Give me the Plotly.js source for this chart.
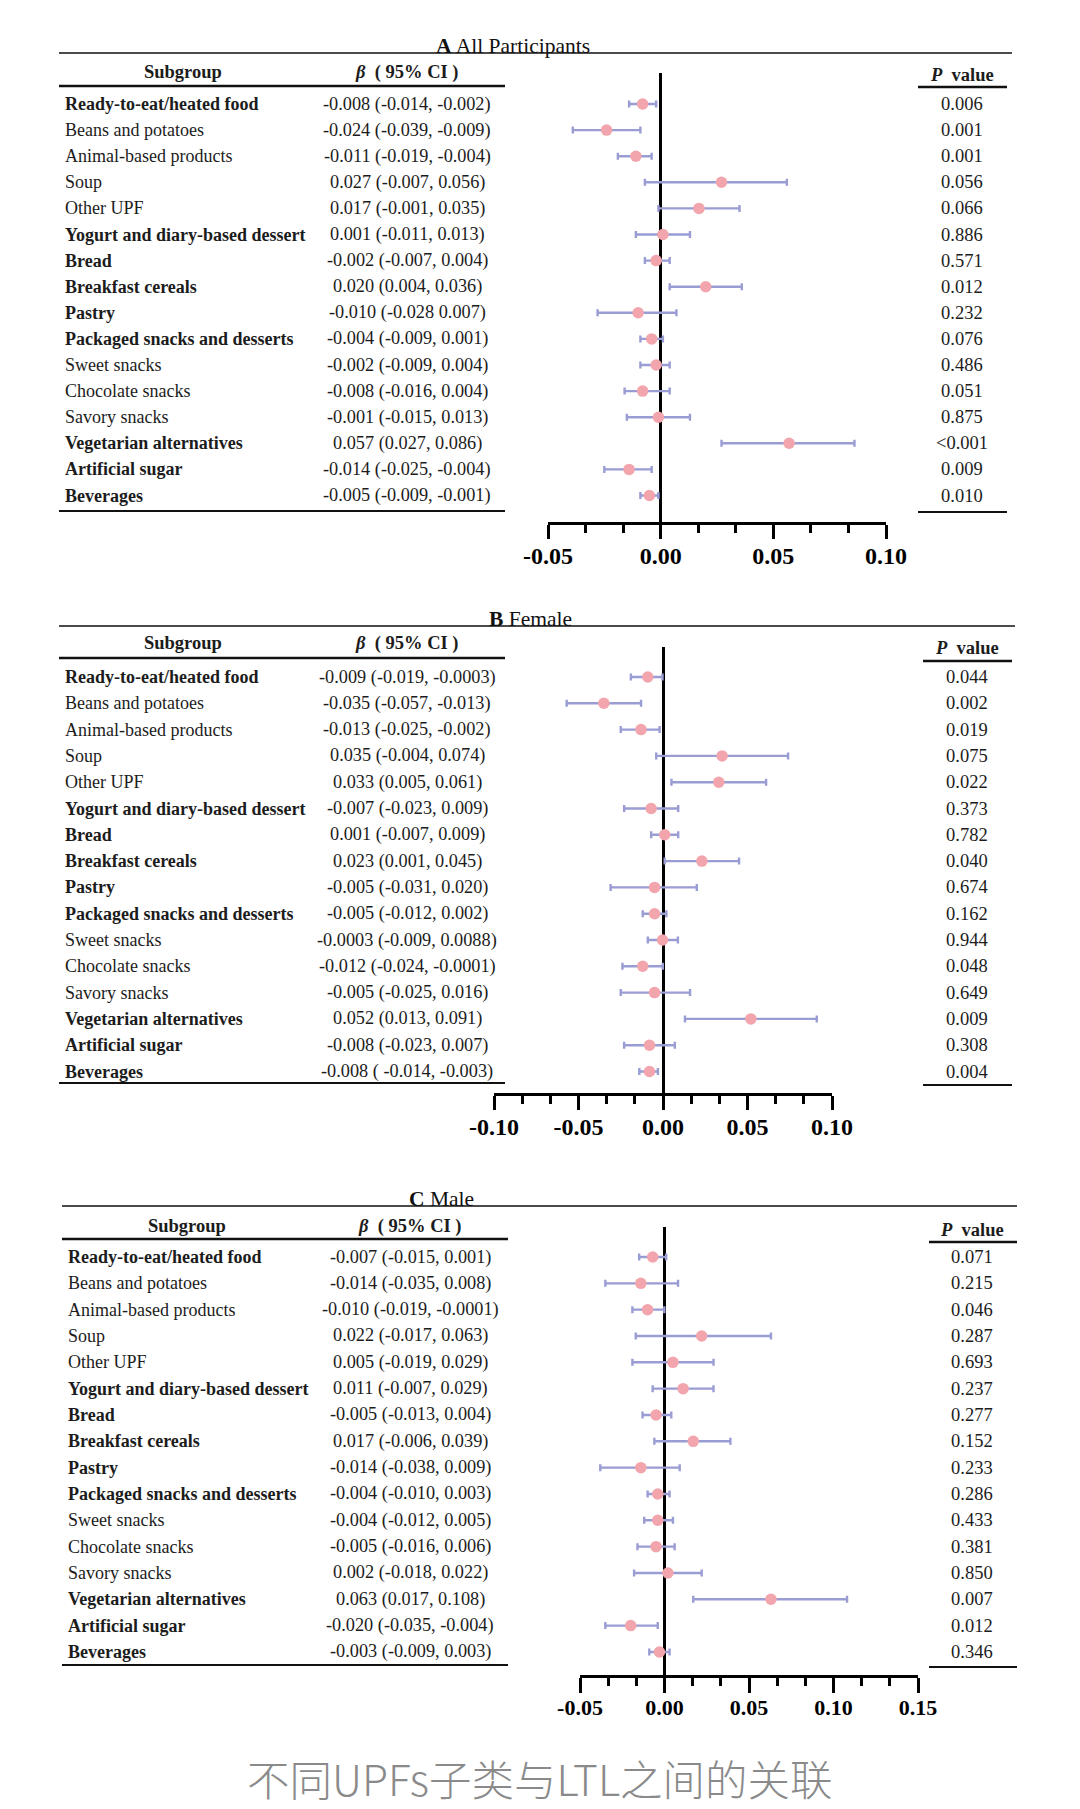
<!DOCTYPE html>
<html><head><meta charset="utf-8">
<script src="https://cdn.plot.ly/plotly-3.0.1.min.js"></script>
<style>html,body{margin:0;padding:0;background:#fff;}#chart{width:1080px;height:1809px;}</style>
</head><body><div id="chart"></div>
<script>
// ---------- data ----------
const subgroups = ["Ready-to-eat/heated food","Beans and potatoes","Animal-based products","Soup","Other UPF",
  "Yogurt and diary-based dessert","Bread","Breakfast cereals","Pastry","Packaged snacks and desserts",
  "Sweet snacks","Chocolate snacks","Savory snacks","Vegetarian alternatives","Artificial sugar","Beverages"];
const boldRows = [true,false,false,false,false,true,true,true,true,true,false,false,false,true,true,true];

// A All Participants
const allBeta = [-0.008,-0.024,-0.011,0.027,0.017,0.001,-0.002,0.020,-0.010,-0.004,-0.002,-0.008,-0.001,0.057,-0.014,-0.005];
const allLow  = [-0.014,-0.039,-0.019,-0.007,-0.001,-0.011,-0.007,0.004,-0.028,-0.009,-0.009,-0.016,-0.015,0.027,-0.025,-0.009];
const allHigh = [-0.002,-0.009,-0.004,0.056,0.035,0.013,0.004,0.036,0.007,0.001,0.004,0.004,0.013,0.086,-0.004,-0.001];
const allCI = ["-0.008 (-0.014, -0.002)","-0.024 (-0.039, -0.009)","-0.011 (-0.019, -0.004)","0.027 (-0.007, 0.056)",
  "0.017 (-0.001, 0.035)","0.001 (-0.011, 0.013)","-0.002 (-0.007, 0.004)","0.020 (0.004, 0.036)","-0.010 (-0.028 0.007)",
  "-0.004 (-0.009, 0.001)","-0.002 (-0.009, 0.004)","-0.008 (-0.016, 0.004)","-0.001 (-0.015, 0.013)","0.057 (0.027, 0.086)",
  "-0.014 (-0.025, -0.004)","-0.005 (-0.009, -0.001)"];
const allP = ["0.006","0.001","0.001","0.056","0.066","0.886","0.571","0.012","0.232","0.076","0.486","0.051","0.875","&lt;0.001","0.009","0.010"];

// B Female
const femBeta = [-0.009,-0.035,-0.013,0.035,0.033,-0.007,0.001,0.023,-0.005,-0.005,-0.0003,-0.012,-0.005,0.052,-0.008,-0.008];
const femLow  = [-0.019,-0.057,-0.025,-0.004,0.005,-0.023,-0.007,0.001,-0.031,-0.012,-0.009,-0.024,-0.025,0.013,-0.023,-0.014];
const femHigh = [-0.0003,-0.013,-0.002,0.074,0.061,0.009,0.009,0.045,0.020,0.002,0.0088,-0.0001,0.016,0.091,0.007,-0.003];
const femCI = ["-0.009 (-0.019, -0.0003)","-0.035 (-0.057, -0.013)","-0.013 (-0.025, -0.002)","0.035 (-0.004, 0.074)",
  "0.033 (0.005, 0.061)","-0.007 (-0.023, 0.009)","0.001 (-0.007, 0.009)","0.023 (0.001, 0.045)","-0.005 (-0.031, 0.020)",
  "-0.005 (-0.012, 0.002)","-0.0003 (-0.009, 0.0088)","-0.012 (-0.024, -0.0001)","-0.005 (-0.025, 0.016)","0.052 (0.013, 0.091)",
  "-0.008 (-0.023, 0.007)","-0.008 ( -0.014, -0.003)"];
const femP = ["0.044","0.002","0.019","0.075","0.022","0.373","0.782","0.040","0.674","0.162","0.944","0.048","0.649","0.009","0.308","0.004"];

// C Male
const maleBeta = [-0.007,-0.014,-0.010,0.022,0.005,0.011,-0.005,0.017,-0.014,-0.004,-0.004,-0.005,0.002,0.063,-0.020,-0.003];
const maleLow  = [-0.015,-0.035,-0.019,-0.017,-0.019,-0.007,-0.013,-0.006,-0.038,-0.010,-0.012,-0.016,-0.018,0.017,-0.035,-0.009];
const maleHigh = [0.001,0.008,-0.0001,0.063,0.029,0.029,0.004,0.039,0.009,0.003,0.005,0.006,0.022,0.108,-0.004,0.003];
const maleCI = ["-0.007 (-0.015, 0.001)","-0.014 (-0.035, 0.008)","-0.010 (-0.019, -0.0001)","0.022 (-0.017, 0.063)",
  "0.005 (-0.019, 0.029)","0.011 (-0.007, 0.029)","-0.005 (-0.013, 0.004)","0.017 (-0.006, 0.039)","-0.014 (-0.038, 0.009)",
  "-0.004 (-0.010, 0.003)","-0.004 (-0.012, 0.005)","-0.005 (-0.016, 0.006)","0.002 (-0.018, 0.022)","0.063 (0.017, 0.108)",
  "-0.020 (-0.035, -0.004)","-0.003 (-0.009, 0.003)"];
const maleP = ["0.071","0.215","0.046","0.287","0.693","0.237","0.277","0.152","0.233","0.286","0.433","0.381","0.850","0.007","0.012","0.346"];

// tick labels
const ticksA = [-0.05,0,0.05,0.10], ticksAText = ["-0.05","0.00","0.05","0.10"];
const ticksB = [-0.10,-0.05,0,0.05,0.10], ticksBText = ["-0.10","-0.05","0.00","0.05","0.10"];
const ticksC = [-0.05,0,0.05,0.10,0.15], ticksCText = ["-0.05","0.00","0.05","0.10","0.15"];

const caption = "不同UPFs子类与LTL之间的关联";

// ---------- layout helpers ----------
const W = 1080, H = 1809;
const px = v => v / W, py = v => 1 - v / H;
const SERIF = "Liberation Serif, Times New Roman, serif";
const TXT = "#1c1c1c";

const panels = [
  {title:"<b>A</b> All Participants", titleX:513, beta:allBeta, lo:allLow, hi:allHigh, ci:allCI, p:allP,
   tv:ticksA, tt:ticksAText, range:[-0.05,0.10], lineTop:53, lineL:59, lineR:1012, hdrY:72, hdrLine:86, tblR:505,
   tblBottom:511, pHdrY:75, pLine:87, pL:918, pR:1007, pBottom:512, pX:962, subX:63, subHdrX:183, ciX:407,
   row0:104, step:26.1, vTop:73, axisY:522, xL:548, xR:886, tickSize:24, ticklen:14},
  {title:"<b>B</b> Female", titleX:530, beta:femBeta, lo:femLow, hi:femHigh, ci:femCI, p:femP,
   tv:ticksB, tt:ticksBText, range:[-0.10,0.10], lineTop:626, lineL:59, lineR:1015, hdrY:643, hdrLine:658, tblR:505,
   tblBottom:1083, pHdrY:648, pLine:661, pL:923, pR:1012, pBottom:1085, pX:967, subX:63, subHdrX:183, ciX:407,
   row0:677, step:26.3, vTop:647, axisY:1093, xL:494, xR:832, tickSize:24, ticklen:14},
  {title:"<b>C</b> Male", titleX:441, beta:maleBeta, lo:maleLow, hi:maleHigh, ci:maleCI, p:maleP,
   tv:ticksC, tt:ticksCText, range:[-0.05,0.15], lineTop:1206, lineL:62, lineR:1017, hdrY:1226, hdrLine:1239, tblR:508,
   tblBottom:1665, pHdrY:1230, pLine:1242, pL:929, pR:1017, pBottom:1667, pX:972, subX:66, subHdrX:187, ciX:410,
   row0:1257, step:26.33, vTop:1227, axisY:1675, xL:580, xR:918, tickSize:22, ticklen:15}
];

const traces = [], annotations = [], shapes = [];
const layout = {
  width: W, height: H, margin:{l:0,r:0,t:0,b:0}, paper_bgcolor:"#fff", plot_bgcolor:"#fff",
  showlegend:false, font:{family:SERIF, color:TXT}
};

function hline(y, x0, x1, w) {
  shapes.push({type:"line", xref:"paper", yref:"paper", x0:px(x0), x1:px(x1), y0:py(y), y1:py(y),
    line:{color:"#111", width:w}});
}
function note(text, x, y, yref, xanchor, size, extra) {
  annotations.push(Object.assign({text, x, y, xref:"paper", yref, xanchor, yanchor:"middle", showarrow:false,
    font:{family:SERIF, size, color:TXT}}, extra || {}));
}

panels.forEach((p, i) => {
  const n = i === 0 ? "" : String(i + 1);
  const xa = "x" + n, ya = "y" + n;
  const rows = p.beta.map((_, k) => k);
  traces.push({
    type:"scatter", mode:"markers", x:p.beta, y:rows, xaxis:xa, yaxis:ya, hoverinfo:"skip",
    marker:{color:"#f3a5ad", size:11.5, line:{width:0}},
    error_x:{type:"data", symmetric:false, array:p.hi.map((h,k)=>h - p.beta[k]),
      arrayminus:p.lo.map((l,k)=>p.beta[k] - l), color:"#9a9cd4", thickness:2.4, width:3.5}
  });
  layout["xaxis" + n] = {
    domain:[px(p.xL), px(p.xR)], range:p.range, anchor:ya, fixedrange:true,
    showgrid:false, zeroline:true, zerolinewidth:3, zerolinecolor:"#000",
    showline:true, linewidth:3, linecolor:"#000",
    ticks:"outside", ticklen:p.ticklen, tickwidth:3, tickcolor:"#000",
    tickmode:"array", tickvals:p.tv, ticktext:p.tt, ticklabelstandoff:-4,
    tickfont:{family:SERIF, size:p.tickSize, color:"#000", weight:"bold"},
    minor:{tickmode:"linear", tick0:0, dtick:0.05/3, ticks:"outside", ticklen:8, tickwidth:3, tickcolor:"#000", showgrid:false}
  };
  layout["yaxis" + n] = {
    domain:[py(p.axisY), py(p.vTop)], range:[(p.axisY - p.row0)/p.step, (p.vTop - p.row0)/p.step],
    visible:false, fixedrange:true, showgrid:false, zeroline:false
  };
  // title and rules
  annotations.push({text:p.title, x:px(p.titleX), y:py(p.lineTop + 7), xref:"paper", yref:"paper",
    xanchor:"center", yanchor:"bottom", showarrow:false, font:{family:SERIF, size:21.5, color:"#111"}});
  hline(p.lineTop, p.lineL, p.lineR, 1.6);
  hline(p.hdrLine, p.lineL, p.tblR, 2.6);
  hline(p.tblBottom, p.lineL, p.tblR, 2.2);
  hline(p.pLine, p.pL, p.pR, 2.6);
  hline(p.pBottom, p.pL, p.pR, 2.2);
  // headers
  note("<b>Subgroup</b>", px(p.subHdrX), py(p.hdrY), "paper", "center", 18.5);
  note("<b><i>β</i>  ( 95% CI )</b>", px(p.ciX), py(p.hdrY), "paper", "center", 18.5);
  note("<b><i>P</i>  value</b>", px(p.pX), py(p.pHdrY), "paper", "center", 18.5);
  // rows
  subgroups.forEach((s, k) => {
    note(boldRows[k] ? "<b>" + s + "</b>" : s, px(p.subX), k, ya, "left", 18);
    note(p.ci[k], px(p.ciX), k, ya, "center", 18.3);
    note(p.p[k], px(p.pX), k, ya, "center", 18.5);
  });
});

annotations.push({text:caption, x:0.5, y:py(1777), xref:"paper", yref:"paper", xanchor:"center", yanchor:"middle",
  showarrow:false, font:{family:"Noto Sans CJK SC, Noto Sans, sans-serif", size:42.5, color:"#8a8a8a", weight:300}});

layout.annotations = annotations;
layout.shapes = shapes;

Plotly.newPlot("chart", traces, layout, {staticPlot:true, displayModeBar:false});
</script>
</body></html>
